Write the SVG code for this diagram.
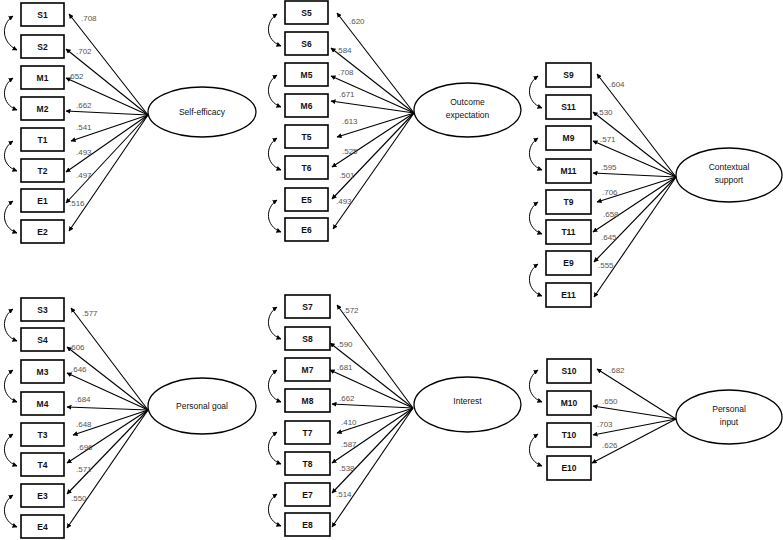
<svg xmlns="http://www.w3.org/2000/svg" width="783" height="540" viewBox="0 0 783 540">
<defs>
<marker id="ah" viewBox="0 0 10 10" refX="9" refY="5" markerWidth="5" markerHeight="5" orient="auto-start-reverse" markerUnits="userSpaceOnUse">
<path d="M0,0 L10,5 L0,10 z" fill="#000"/>
</marker>
<style>
.box{fill:#fff;stroke:#000;stroke-width:1.6}
.ell{fill:#fff;stroke:#000;stroke-width:1.3}
.ln{stroke:#000;stroke-width:1.1;fill:none;marker-end:url(#ah)}
.cv{stroke:#000;stroke-width:1;fill:none;marker-start:url(#ah);marker-end:url(#ah)}
.bt{font-family:"Liberation Sans",Arial,sans-serif;font-size:8.5px;font-weight:bold;fill:#111;text-anchor:middle}
.et{font-family:"Liberation Sans",Arial,sans-serif;font-size:8.5px;fill:#111;text-anchor:middle}
.lt{font-family:"Liberation Sans",Arial,sans-serif;font-size:8px;fill:#555}
</style>
</defs>
<rect width="783" height="540" fill="#fff"/>

<g id="connectors">
<!-- Panel 1 -->
<line class="ln" x1="148" y1="115" x2="69" y2="14"/>
<line class="ln" x1="148" y1="115" x2="66" y2="49"/>
<line class="ln" x1="148" y1="115" x2="66" y2="78"/>
<line class="ln" x1="148" y1="115" x2="66" y2="111"/>
<line class="ln" x1="148" y1="115" x2="71" y2="141"/>
<line class="ln" x1="148" y1="115" x2="66" y2="172"/>
<line class="ln" x1="148" y1="115" x2="66" y2="203"/>
<line class="ln" x1="148" y1="115" x2="69" y2="231"/>
<path class="cv" d="M13,16 C1,24 1,42 17,50"/>
<path class="cv" d="M13,78 C1,86 1,104 17,110"/>
<path class="cv" d="M13,141 C1,149 1,165 17,171"/>
<path class="cv" d="M13,201 C1,209 1,227 17,233"/>
<!-- Panel 2 -->
<line class="ln" x1="414" y1="113" x2="337" y2="13"/>
<line class="ln" x1="414" y1="113" x2="331" y2="48"/>
<line class="ln" x1="414" y1="113" x2="331" y2="76"/>
<line class="ln" x1="414" y1="113" x2="331" y2="101"/>
<line class="ln" x1="414" y1="113" x2="337" y2="137"/>
<line class="ln" x1="414" y1="113" x2="332" y2="167"/>
<line class="ln" x1="414" y1="113" x2="332" y2="199"/>
<line class="ln" x1="414" y1="113" x2="333" y2="229"/>
<path class="cv" d="M277,14 C265,22 265,40 281,46"/>
<path class="cv" d="M277,75 C265,83 265,101 281,107"/>
<path class="cv" d="M277,138 C265,146 265,164 281,170"/>
<path class="cv" d="M277,200 C265,208 265,226 281,232"/>
<!-- Panel 3 -->
<line class="ln" x1="676" y1="177" x2="597" y2="74"/>
<line class="ln" x1="676" y1="177" x2="593" y2="112"/>
<line class="ln" x1="676" y1="177" x2="593" y2="141"/>
<line class="ln" x1="676" y1="177" x2="593" y2="173"/>
<line class="ln" x1="676" y1="177" x2="597" y2="202"/>
<line class="ln" x1="676" y1="177" x2="593" y2="232"/>
<line class="ln" x1="676" y1="177" x2="594" y2="262"/>
<line class="ln" x1="676" y1="177" x2="594" y2="297"/>
<path class="cv" d="M538,76 C526,84 526,102 542,108"/>
<path class="cv" d="M538,138 C526,146 526,164 542,170"/>
<path class="cv" d="M538,202 C526,210 526,228 542,234"/>
<path class="cv" d="M538,264 C526,272 526,290 542,296"/>
<!-- Panel 4 -->
<line class="ln" x1="148" y1="410" x2="71" y2="308"/>
<line class="ln" x1="148" y1="410" x2="67" y2="347"/>
<line class="ln" x1="148" y1="410" x2="67" y2="373"/>
<line class="ln" x1="148" y1="410" x2="67" y2="407"/>
<line class="ln" x1="148" y1="410" x2="73" y2="435"/>
<line class="ln" x1="148" y1="410" x2="67" y2="463"/>
<line class="ln" x1="148" y1="410" x2="67" y2="494"/>
<line class="ln" x1="148" y1="410" x2="67" y2="528"/>
<path class="cv" d="M13,309 C1,317 1,335 17,341"/>
<path class="cv" d="M13,370 C1,378 1,396 17,402"/>
<path class="cv" d="M13,434 C1,442 1,460 17,466"/>
<path class="cv" d="M13,495 C1,503 1,521 17,527"/>
<!-- Panel 5 -->
<line class="ln" x1="413" y1="408" x2="337" y2="305"/>
<line class="ln" x1="413" y1="408" x2="330" y2="343"/>
<line class="ln" x1="413" y1="408" x2="330" y2="370"/>
<line class="ln" x1="413" y1="408" x2="332" y2="404"/>
<line class="ln" x1="413" y1="408" x2="337" y2="433"/>
<line class="ln" x1="413" y1="408" x2="332" y2="463"/>
<line class="ln" x1="413" y1="408" x2="332" y2="493"/>
<line class="ln" x1="413" y1="408" x2="332" y2="527"/>
<path class="cv" d="M277,307 C265,315 265,333 281,339"/>
<path class="cv" d="M277,370 C265,378 265,396 281,402"/>
<path class="cv" d="M277,432 C265,440 265,458 281,464"/>
<path class="cv" d="M277,494 C265,502 265,520 281,526"/>
<!-- Panel 6 -->
<line class="ln" x1="676" y1="419" x2="597" y2="369"/>
<line class="ln" x1="676" y1="419" x2="593" y2="406"/>
<line class="ln" x1="676" y1="419" x2="593" y2="435"/>
<line class="ln" x1="676" y1="419" x2="592" y2="463"/>
<path class="cv" d="M538,370 C526,378 526,396 542,402"/>
<path class="cv" d="M538,434 C526,442 526,460 542,466"/>
</g>

<g id="labels">
<text class="lt" x="81" y="21">.708</text>
<text class="lt" x="76" y="54">.702</text>
<text class="lt" x="68" y="79">.652</text>
<text class="lt" x="76" y="108">.662</text>
<text class="lt" x="76" y="130">.541</text>
<text class="lt" x="76" y="155">.493</text>
<text class="lt" x="76" y="178">.497</text>
<text class="lt" x="69" y="206">.516</text>

<text class="lt" x="349" y="24">.620</text>
<text class="lt" x="336" y="53">.584</text>
<text class="lt" x="338" y="75">.708</text>
<text class="lt" x="339" y="97">.671</text>
<text class="lt" x="342" y="124">.613</text>
<text class="lt" x="342" y="154">.525</text>
<text class="lt" x="339" y="178">.501</text>
<text class="lt" x="336" y="204">.493</text>

<text class="lt" x="609" y="87">.604</text>
<text class="lt" x="597" y="115">.530</text>
<text class="lt" x="600" y="142">.571</text>
<text class="lt" x="601" y="170">.595</text>
<text class="lt" x="602" y="195">.706</text>
<text class="lt" x="603" y="217">.658</text>
<text class="lt" x="601" y="240">.645</text>
<text class="lt" x="598" y="268">.555</text>

<text class="lt" x="82" y="316">.577</text>
<text class="lt" x="69" y="350">.606</text>
<text class="lt" x="71" y="372">.646</text>
<text class="lt" x="75" y="402">.684</text>
<text class="lt" x="76" y="427">.648</text>
<text class="lt" x="77" y="450">.696</text>
<text class="lt" x="76" y="472">.571</text>
<text class="lt" x="71" y="501">.550</text>

<text class="lt" x="343" y="313">.572</text>
<text class="lt" x="337" y="347">.590</text>
<text class="lt" x="337" y="370">.681</text>
<text class="lt" x="339" y="401">.662</text>
<text class="lt" x="341" y="425">.410</text>
<text class="lt" x="341" y="447">.587</text>
<text class="lt" x="339" y="471">.538</text>
<text class="lt" x="336" y="497">.514</text>

<text class="lt" x="609" y="373">.682</text>
<text class="lt" x="602" y="404">.650</text>
<text class="lt" x="597" y="427">.703</text>
<text class="lt" x="602" y="448">.626</text>
</g>

<!-- Panel 1 nodes -->
<g id="S1"><rect class="box" x="21" y="3" width="43" height="23"/><text class="bt" x="42.5" y="18">S1</text></g>
<g id="S2"><rect class="box" x="21" y="35" width="43" height="23"/><text class="bt" x="42.5" y="50">S2</text></g>
<g id="M1"><rect class="box" x="21" y="66" width="43" height="23"/><text class="bt" x="42.5" y="81">M1</text></g>
<g id="M2"><rect class="box" x="21" y="97" width="43" height="23"/><text class="bt" x="42.5" y="112">M2</text></g>
<g id="T1"><rect class="box" x="21" y="128" width="43" height="23"/><text class="bt" x="42.5" y="143">T1</text></g>
<g id="T2"><rect class="box" x="21" y="159" width="43" height="23"/><text class="bt" x="42.5" y="174">T2</text></g>
<g id="E1"><rect class="box" x="21" y="189" width="43" height="23"/><text class="bt" x="42.5" y="204">E1</text></g>
<g id="E2"><rect class="box" x="21" y="220" width="43" height="23"/><text class="bt" x="42.5" y="235">E2</text></g>
<g id="self-efficacy"><ellipse class="ell" cx="202" cy="112" rx="54" ry="25"/><text class="et" x="202" y="115">Self-efficacy</text></g>

<!-- Panel 2 nodes -->
<g id="S5"><rect class="box" x="285" y="1" width="43" height="23"/><text class="bt" x="306.5" y="16">S5</text></g>
<g id="S6"><rect class="box" x="285" y="32" width="43" height="23"/><text class="bt" x="306.5" y="47">S6</text></g>
<g id="M5"><rect class="box" x="285" y="63" width="43" height="23"/><text class="bt" x="306.5" y="78">M5</text></g>
<g id="M6"><rect class="box" x="285" y="94" width="43" height="23"/><text class="bt" x="306.5" y="109">M6</text></g>
<g id="T5"><rect class="box" x="285" y="125" width="43" height="23"/><text class="bt" x="306.5" y="140">T5</text></g>
<g id="T6"><rect class="box" x="285" y="156" width="43" height="23"/><text class="bt" x="306.5" y="171">T6</text></g>
<g id="E5"><rect class="box" x="285" y="188" width="43" height="23"/><text class="bt" x="306.5" y="203">E5</text></g>
<g id="E6"><rect class="box" x="285" y="218" width="43" height="23"/><text class="bt" x="306.5" y="233">E6</text></g>
<g id="outcome-expectation"><ellipse class="ell" cx="467.5" cy="110" rx="53.5" ry="27"/><text class="et" x="467.5" y="105">Outcome</text><text class="et" x="467.5" y="118">expectation</text></g>

<!-- Panel 3 nodes -->
<g id="S9"><rect class="box" x="546" y="63" width="45" height="24"/><text class="bt" x="568.5" y="78">S9</text></g>
<g id="S11"><rect class="box" x="546" y="95" width="45" height="24"/><text class="bt" x="568.5" y="110">S11</text></g>
<g id="M9"><rect class="box" x="546" y="126" width="45" height="24"/><text class="bt" x="568.5" y="141">M9</text></g>
<g id="M11"><rect class="box" x="546" y="159" width="45" height="24"/><text class="bt" x="568.5" y="174">M11</text></g>
<g id="T9"><rect class="box" x="546" y="190" width="45" height="24"/><text class="bt" x="568.5" y="205">T9</text></g>
<g id="T11"><rect class="box" x="546" y="220" width="45" height="24"/><text class="bt" x="568.5" y="235">T11</text></g>
<g id="E9"><rect class="box" x="546" y="251" width="45" height="24"/><text class="bt" x="568.5" y="266">E9</text></g>
<g id="E11"><rect class="box" x="546" y="283" width="45" height="24"/><text class="bt" x="568.5" y="298">E11</text></g>
<g id="contextual-support"><ellipse class="ell" cx="729" cy="175" rx="53" ry="27"/><text class="et" x="729" y="170">Contextual</text><text class="et" x="729" y="183">support</text></g>

<!-- Panel 4 nodes -->
<g id="S3"><rect class="box" x="21" y="298" width="43" height="23"/><text class="bt" x="42.5" y="313">S3</text></g>
<g id="S4"><rect class="box" x="21" y="328" width="43" height="23"/><text class="bt" x="42.5" y="343">S4</text></g>
<g id="M3"><rect class="box" x="21" y="360" width="43" height="23"/><text class="bt" x="42.5" y="375">M3</text></g>
<g id="M4"><rect class="box" x="21" y="392" width="43" height="23"/><text class="bt" x="42.5" y="407">M4</text></g>
<g id="T3"><rect class="box" x="21" y="423" width="43" height="23"/><text class="bt" x="42.5" y="438">T3</text></g>
<g id="T4"><rect class="box" x="21" y="453" width="43" height="23"/><text class="bt" x="42.5" y="468">T4</text></g>
<g id="E3"><rect class="box" x="21" y="484" width="43" height="23"/><text class="bt" x="42.5" y="499">E3</text></g>
<g id="E4"><rect class="box" x="21" y="515" width="43" height="23"/><text class="bt" x="42.5" y="530">E4</text></g>
<g id="personal-goal"><ellipse class="ell" cx="202" cy="406" rx="54" ry="28"/><text class="et" x="202" y="409">Personal goal</text></g>

<!-- Panel 5 nodes -->
<g id="S7"><rect class="box" x="285" y="295" width="45" height="23"/><text class="bt" x="307.5" y="310">S7</text></g>
<g id="S8"><rect class="box" x="285" y="327" width="45" height="23"/><text class="bt" x="307.5" y="342">S8</text></g>
<g id="M7"><rect class="box" x="285" y="358" width="45" height="23"/><text class="bt" x="307.5" y="373">M7</text></g>
<g id="M8"><rect class="box" x="285" y="389" width="45" height="23"/><text class="bt" x="307.5" y="404">M8</text></g>
<g id="T7"><rect class="box" x="285" y="421" width="45" height="23"/><text class="bt" x="307.5" y="436">T7</text></g>
<g id="T8"><rect class="box" x="285" y="452" width="45" height="23"/><text class="bt" x="307.5" y="467">T8</text></g>
<g id="E7"><rect class="box" x="285" y="483" width="45" height="23"/><text class="bt" x="307.5" y="498">E7</text></g>
<g id="E8"><rect class="box" x="285" y="513" width="45" height="23"/><text class="bt" x="307.5" y="528">E8</text></g>
<g id="interest"><ellipse class="ell" cx="467.5" cy="404.5" rx="53.5" ry="27.5"/><text class="et" x="467.5" y="404">Interest</text></g>

<!-- Panel 6 nodes -->
<g id="S10"><rect class="box" x="547" y="359" width="44" height="24"/><text class="bt" x="569" y="374">S10</text></g>
<g id="M10"><rect class="box" x="547" y="391" width="44" height="24"/><text class="bt" x="569" y="406">M10</text></g>
<g id="T10"><rect class="box" x="547" y="423" width="44" height="24"/><text class="bt" x="569" y="438">T10</text></g>
<g id="E10"><rect class="box" x="547" y="456" width="44" height="24"/><text class="bt" x="569" y="471">E10</text></g>
<g id="personal-input"><ellipse class="ell" cx="729" cy="417" rx="53" ry="27"/><text class="et" x="729" y="412">Personal</text><text class="et" x="729" y="425">input</text></g>
</svg>
